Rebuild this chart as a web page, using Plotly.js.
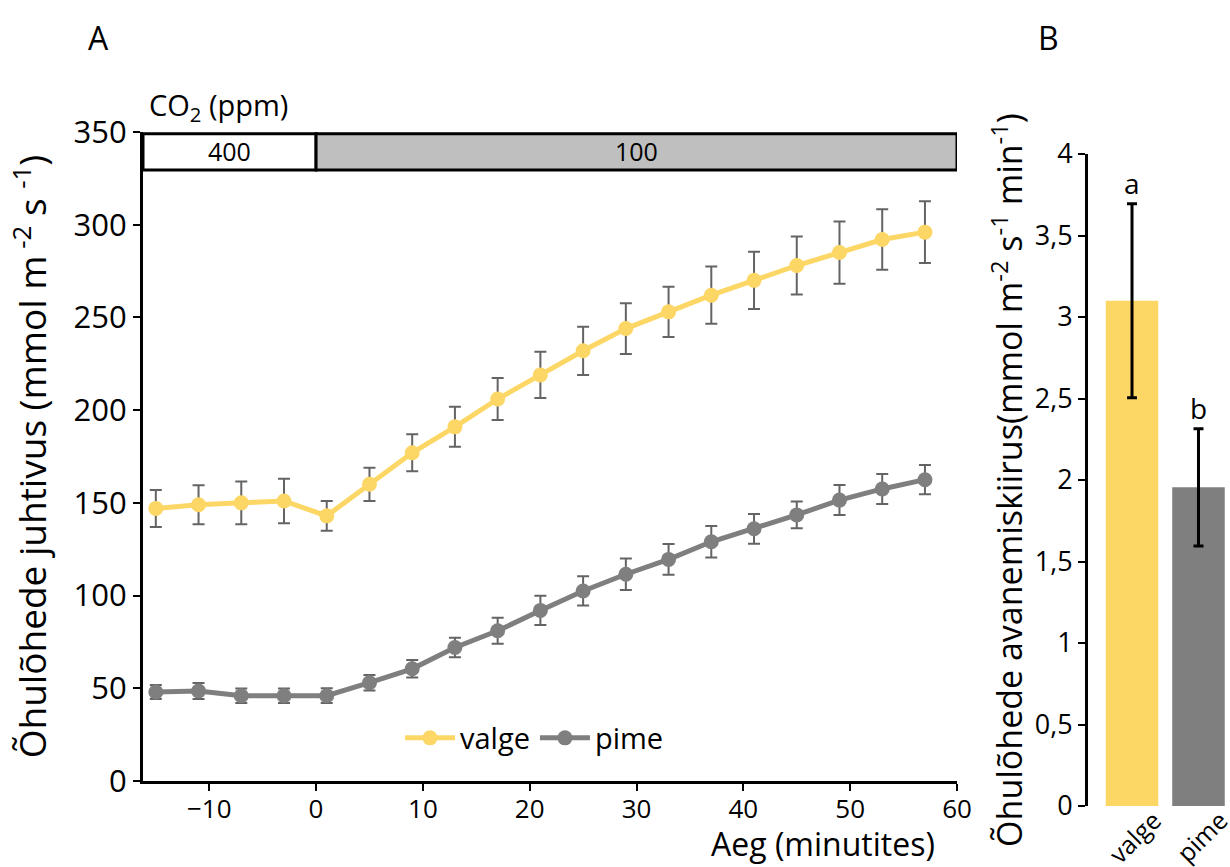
<!DOCTYPE html>
<html>
<head>
<meta charset="utf-8">
<script src="https://cdn.plot.ly/plotly-3.0.1.min.js"></script>
<style>
  html, body { margin: 0; padding: 0; background: #fff; }
  #chart { width: 1230px; height: 867px; }
</style>
</head>
<body>
<div id="chart"></div>
<script>
// ---- Panel A data ----
const timeMin = [-15, -11, -7, -3, 1, 5, 9, 13, 17, 21, 25, 29, 33, 37, 41, 45, 49, 53, 57];
const valgeCond = [147, 149, 150, 151, 143, 160, 177, 191, 206, 219, 232, 244, 253, 262, 270, 278, 285, 292, 296];
const valgeErr = [10, 10.5, 11.5, 12, 8, 9, 10, 10.8, 11.3, 12.5, 13, 13.7, 13.6, 15.4, 15.4, 15.7, 16.8, 16.3, 16.7];
const pimeCond = [48, 48.5, 46, 46, 46, 53, 60.5, 72, 81, 92, 102.5, 111.5, 119.5, 129, 136, 143.5, 151.5, 157.5, 162.5];
const pimeErr = [3.8, 4.3, 3.9, 3.9, 4, 4.2, 4.7, 5.3, 7, 7.9, 7.9, 8.5, 8.3, 8.5, 8, 7.2, 8.1, 8.1, 7.9];

// ---- Panel B data ----
const barCats = ["valge", "pime"];
const barVals = [3.1, 1.955];
const barErr = [0.595, 0.36];
const barLetters = ["a", "b"];

// ---- Axis tick labels ----
const yTicksA = [0, 50, 100, 150, 200, 250, 300, 350];
const xTicksA = [-10, 0, 10, 20, 30, 40, 50, 60];
const yTicksB = [0, 0.5, 1, 1.5, 2, 2.5, 3, 3.5, 4];
const yTickTextB = ["0", "0,5", "1", "1,5", "2", "2,5", "3", "3,5", "4"];

// CO2 bands
const co2Starts = [-16.2, 0];
const co2Ends = [0, 60];
const co2Labels = ["400", "100"];
const co2Fill = ["#ffffff", "#bfbfbf"];

const YELLOW = "#fdd766";
const GRAY = "#7f7f7f";
const ERRC = "#646464";
const FONT = "Open Sans, DejaVu Sans, sans-serif";

const traces = [
  {
    type: "scatter", mode: "lines+markers", name: "valge",
    x: timeMin, y: valgeCond,
    line: { color: YELLOW, width: 5 },
    marker: { color: YELLOW, size: 15 },
    error_y: { type: "data", array: valgeErr, visible: true, color: ERRC, thickness: 2, width: 6 },
    xaxis: "x", yaxis: "y"
  },
  {
    type: "scatter", mode: "lines+markers", name: "pime",
    x: timeMin, y: pimeCond,
    line: { color: GRAY, width: 5 },
    marker: { color: GRAY, size: 15 },
    error_y: { type: "data", array: pimeErr, visible: true, color: ERRC, thickness: 2, width: 6 },
    xaxis: "x", yaxis: "y"
  },
  {
    type: "bar", name: "B", showlegend: false,
    x: barCats, y: barVals, width: 0.79,
    marker: { color: [YELLOW, GRAY] },
    error_y: { type: "data", array: barErr, visible: true, color: "#000", thickness: 3, width: 5 },
    xaxis: "x2", yaxis: "y2"
  }
];

const shapes = co2Starts.map((s, i) => ({
  type: "rect", xref: "x", yref: "y",
  x0: s, x1: co2Ends[i], y0: 329.5, y1: 349,
  fillcolor: co2Fill[i], line: { color: "#000", width: 3 }, layer: "above"
}));

function pa(text, px, py, size, xanchor) {
  return { text: text, x: px / 1230, y: 1 - py / 867, xref: "paper", yref: "paper", xanchor: xanchor || "center", yanchor: "middle", showarrow: false, font: { size: size, color: "#000", family: FONT } };
}

const annotations = [
  pa("A", 98, 38, 32),
  pa("B", 1048, 38, 32),
  pa("CO<sub>2</sub> (ppm)", 147, 107, 29, "left"),
  pa("Aeg (minutites)", 937, 843, 32, "right")
];
co2Labels.forEach((t, i) => {
  annotations.push({ text: t, x: (co2Starts[i] + co2Ends[i]) / 2, y: 339.5, xref: "x", yref: "y", xanchor: "center", yanchor: "middle", showarrow: false, font: { size: 25, color: "#000", family: FONT } });
});
barLetters.forEach((t, i) => {
  annotations.push({ text: t, x: barCats[i], y: barVals[i] + barErr[i], xref: "x2", yref: "y2", xanchor: "center", yanchor: "bottom", yshift: 0, showarrow: false, font: { size: 28, color: "#000", family: FONT } });
});

const layout = {
  width: 1230, height: 867,
  margin: { l: 0, r: 0, t: 0, b: 0 },
  paper_bgcolor: "#fff", plot_bgcolor: "rgba(0,0,0,0)",
  font: { family: FONT, color: "#000" },
  showlegend: true,
  legend: { orientation: "h", x: 400 / 1230, y: 1 - 738 / 867, xanchor: "left", yanchor: "middle", font: { size: 29, color: "#000", family: FONT }, bgcolor: "rgba(0,0,0,0)", tracegroupgap: 0, itemwidth: 50 },
  xaxis: {
    domain: [143 / 1230, 957 / 1230], range: [-16.2, 60],
    tickvals: xTicksA, ticks: "outside", ticklen: 7, tickwidth: 2, tickcolor: "#000",
    showline: true, linecolor: "#000", linewidth: 3, showgrid: false, zeroline: false,
    tickfont: { size: 26, color: "#000", family: FONT }, anchor: "y", ticklabelstandoff: -4
  },
  yaxis: {
    domain: [(867 - 781) / 867, (867 - 132) / 867], range: [0, 350],
    tickvals: yTicksA, ticks: "outside", ticklen: 7, tickwidth: 2, tickcolor: "#000",
    showline: true, linecolor: "#000", linewidth: 3, showgrid: false, zeroline: false,
    tickfont: { size: 31, color: "#000", family: FONT }, anchor: "x",
    title: { text: "Õhulõhede juhtivus (mmol m<sup> -2</sup> s <sup>-1</sup>)", font: { size: 37, color: "#000", family: FONT }, standoff: 16 }
  },
  xaxis2: {
    domain: [1088 / 1230, 1], range: [-0.662, 1.474], type: "category",
    showline: false, ticks: "", showgrid: false, zeroline: false, tickangle: -45,
    tickfont: { size: 25, color: "#000", family: FONT }, anchor: "y2",
    ticklabelshift: 22, ticklabelstandoff: -6
  },
  yaxis2: {
    domain: [(867 - 806) / 867, (867 - 154) / 867], range: [0, 4],
    tickvals: yTicksB, ticktext: yTickTextB, ticks: "outside", ticklen: 7, tickwidth: 2, tickcolor: "#000",
    showline: true, linecolor: "#000", linewidth: 3, showgrid: false, zeroline: false,
    tickfont: { size: 27, color: "#000", family: FONT }, anchor: "x2",
    title: { text: "Õhulõhede avanemiskiirus(mmol m<sup>-2</sup> s<sup>-1</sup> min<sup>-1</sup>)", font: { size: 34, color: "#000", family: FONT }, standoff: 2 }
  },
  shapes: shapes,
  annotations: annotations
};

Plotly.newPlot("chart", traces, layout, { displayModeBar: false, staticPlot: true });
</script>
</body>
</html>
